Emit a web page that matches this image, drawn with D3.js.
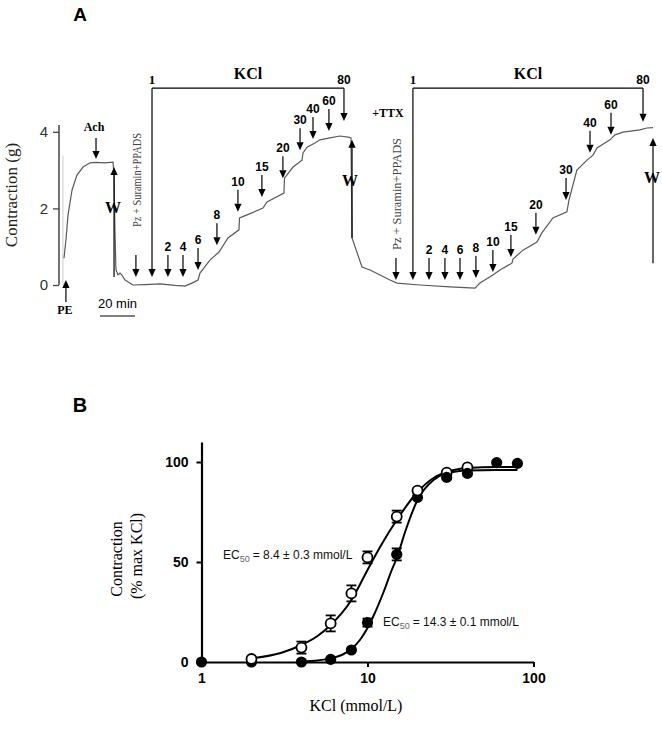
<!DOCTYPE html>
<html><head><meta charset="utf-8">
<script src="https://cdn.jsdelivr.net/npm/d3@7"></script>
<style>body{margin:0;background:#fff}</style>
</head><body><svg id="c" width="662" height="732"></svg>
<script>
// ---------- Panel A data (time in min from PE, contraction in g) ----------
const traceA = [[0,0.70],[1.1,1.17],[2.3,1.83],[4.6,2.48],[7.4,2.87],[10.9,3.08],[14.9,3.19],[18.3,3.2],[23.4,3.19],[28,3.21],
 [28.6,2.87],[29.1,1.44],[29.7,0.39],[30.9,0.26],[32,0.31],[33.1,0.26],[34.9,0.13],[39.4,0],[46.3,0.01],[54.9,0.03],
 [63.4,-0.01],[69.1,-0.03],[73.1,0.05],[76.6,0.13],[77.7,0.31],[83.4,0.65],[88.6,0.86],[93.7,1.23],[100,1.44],[100.3,1.75],
 [104.6,1.83],[113.7,2.01],[116,2.17],[125.7,2.40],[126,2.79],[130.9,3.08],[136,3.26],[136.6,3.45],[138.9,3.60],[143.4,3.71],
 [146.3,3.79],[152,3.84],[157.7,3.89],[162.3,3.86],[164,3.84],[164.6,1.23],[170.3,0.47],[174.9,0.39],[186.3,0.13],[190.3,0.05],
 [203.4,0],[220.6,-0.05],[234.9,-0.08],[237.7,0.05],[245.1,0.26],[249.1,0.39],[256,0.57],[256.6,0.68],[262.3,0.91],[270.3,1.12],
 [273.1,1.36],[279.4,1.75],[287.4,1.91],[288.6,2.22],[293.1,3.0],[298.9,3.26],[302.3,3.39],[304.6,3.58],[312,3.79],[314.9,3.92],
 [319.4,3.99],[329.1,4.05],[333.1,4.10],[336.6,4.11]];
const yTicksA = [0, 2, 4];
const doseLabels = ["2","4","6","8","10","15","20","30","40","60"];
const doseTime1 = [59.4,68,76.6,87.4,99.4,113.1,125.1,134.9,142.3,151.4];
const doseTip1  = [0.21,0.21,0.39,1.04,1.91,2.30,2.79,3.52,3.81,4.02];
const doseTime2 = [208.6,217.7,226.3,235.4,245.1,255.4,269.7,286.9,300.6,312.6];
const doseTip2  = [0.13,0.13,0.13,0.18,0.34,0.73,1.31,2.22,3.45,3.92];
const bracketStart = [50.3, 199.4], bracketStartTip = [0.21, 0.13];
const bracketEnd = [160, 330.9], bracketEndTip = [4.28, 4.26];
const bracketLevel = 5.14;
const washTime = [28.6, 164.6, 336.6], washFrom = [0.21, 1.23, 0.57], washTip = [3.08, 3.79, 3.84];
const peTime = 1.1, peTip = 0.13, achTime = 18.3, achTip = 3.29;
const pzTime = [41.1, 189.7], pzTip = [0.21, 0.13];

// ---------- Panel B data ----------
const conc = [1,2,4,6,8,10,15,20,30,40,60,80];
const ctrlMean = [null,1.5,7.2,19.3,34.3,52.3,72.7,85.7,94.7,97.3,null,null];
const ctrlSem  = [0,0,3,4,4,3,3,1,0,0,0,0];
const ttxMean  = [0,0,0,1.3,6,19.7,53.8,82.3,92.3,94.3,99.7,99.3];
const ttxSem   = [0,0,0,0,0,2,3,0,0,0,0,0];
const ctrlFitC = [2,3,4,5,6,8,10,12,15,20,25,30,40,60,80];
const ctrlFitV = [1.8,4.5,8.5,13,18.5,31,46,58,71,85,92,95,97,97.5,97.5];
const ttxFitC = [4,5,6,7,8,9,10,11,12.5,14,15,17,20,25,30,40,60,80];
const ttxFitV = [0.3,0.8,1.8,3.5,6.5,11,17,24,35,46,52,66,81,91,94.3,95.7,96,96];
const xTicksB = [1,10,100], yTicksB = [0,50,100];

const svg = d3.select("#c");
const serif = "'Liberation Serif','Times New Roman',serif";
const sans = "'Liberation Sans',Arial,sans-serif";

// ================= Panel A =================
const xA = d3.scaleLinear().domain([0,336.6]).range([64,653]);
const yA = d3.scaleLinear().domain([0,4]).range([285,131.8]);
const A = svg.append("g");

A.append("text").attr("x",80).attr("y",21).attr("text-anchor","middle")
 .attr("font-family",sans).attr("font-weight","bold").attr("font-size",19).text("A");

const axA = A.append("g").attr("transform",`translate(59,0)`)
 .call(d3.axisLeft(yA).tickValues(yTicksA).tickFormat(d3.format("d")).tickSize(6).tickSizeOuter(0).tickPadding(5));
axA.select(".domain").remove();
axA.selectAll("line").attr("stroke","#444").attr("stroke-width",1.3);
axA.selectAll("text").attr("font-family",sans).attr("font-size",15).attr("fill","#333");
A.append("line").attr("x1",59).attr("x2",59).attr("y1",yA(0)).attr("y2",yA(4.18)).attr("stroke","#444").attr("stroke-width",1.5);
A.append("text").attr("transform",`translate(17,${yA(2.35)}) rotate(-90)`).attr("text-anchor","middle")
 .attr("font-family",serif).attr("font-size",17).attr("fill","#222").text("Contraction (g)");

A.append("line").attr("x1",xA(-0.6)).attr("x2",xA(-0.6)).attr("y1",yA(0)).attr("y2",yA(3.38)).attr("stroke","#ccc").attr("stroke-width",1);

A.append("path").datum(traceA).attr("fill","none").attr("stroke","#5a5a5a").attr("stroke-width",1.2)
 .attr("d",d3.line().x(d=>xA(d[0])).y(d=>yA(d[1])));

function arrow(g,x,yFrom,yTo){
  const dir = yTo>yFrom?1:-1, hl=8, hw=3.6;
  g.append("line").attr("x1",x).attr("x2",x).attr("y1",yFrom).attr("y2",yTo-dir*hl).attr("stroke","#000").attr("stroke-width",1.2);
  g.append("path").attr("d",`M${x},${yTo}L${x-hw},${yTo-dir*hl}L${x+hw},${yTo-dir*hl}Z`).attr("fill","#000");
}
function label(g,x,y,t,opt){
  return g.append("text").attr("x",x).attr("y",y).attr("text-anchor","middle")
   .attr("font-family",opt&&opt.serif?serif:sans).attr("font-weight","bold").attr("font-size",(opt&&opt.size)||12).text(t);
}
const L = 22;
[[doseTime1,doseTip1],[doseTime2,doseTip2]].forEach(([ts,tips])=>{
  ts.forEach((t,i)=>{
    const x=xA(t), yt=yA(tips[i]);
    arrow(A,x,yt-L,yt);
    label(A,x,yt-L-4,doseLabels[i]);
  });
});
for(let k=0;k<2;k++){
  const x1=xA(bracketStart[k]), x2=xA(bracketEnd[k]), yl=yA(bracketLevel);
  A.append("line").attr("x1",x1).attr("x2",x2).attr("y1",yl).attr("y2",yl).attr("stroke","#000").attr("stroke-width",1.2);
  arrow(A,x1,yl,yA(bracketStartTip[k]));
  arrow(A,x2,yl,yA(bracketEndTip[k]));
  label(A,x1,yl-4,"1",{serif:true,size:13});
  label(A,x2,yl-4,"80");
  label(A,(x1+x2)/2,yl-9,"KCl",{serif:true,size:16});
}
arrow(A,xA(peTime),yA(peTip)+22,yA(peTip));
label(A,xA(peTime)-1,314,"PE",{serif:true,size:12});
arrow(A,xA(achTime),yA(achTip)-21,yA(achTip));
label(A,xA(achTime)-2,131,"Ach",{serif:true,size:12});
washTime.forEach((t,i)=>{ arrow(A,xA(t),yA(washFrom[i]),yA(washTip[i])); });
label(A,xA(washTime[0])-1,213,"W",{serif:true,size:16});
label(A,xA(washTime[1])-2,186,"W",{serif:true,size:16});
label(A,xA(washTime[2])-1,183,"W",{serif:true,size:16});
const pzLen=[94,112], pzBottom=[227,250];
pzTime.forEach((t,i)=>{
  const x=xA(t), yt=yA(pzTip[i]);
  arrow(A,x,yt-22,yt);
  A.append("text").attr("transform",`translate(${x+5},${pzBottom[i]}) rotate(-90)`)
   .attr("font-family",serif).attr("font-size",13).attr("fill","#444")
   .attr("textLength",pzLen[i]).attr("lengthAdjust","spacingAndGlyphs").text("Pz + Suramin+PPADS");
});
label(A,388,117,"+TTX",{serif:true,size:12});
A.append("line").attr("x1",xA(20.6)).attr("x2",xA(40.6)).attr("y1",316).attr("y2",316).attr("stroke","#000").attr("stroke-width",1);
A.append("text").attr("x",(xA(20.6)+xA(40.6))/2).attr("y",308).attr("text-anchor","middle")
 .attr("font-family",sans).attr("font-size",13).text("20 min");

// ================= Panel B =================
const xB = d3.scaleLog().domain([1,100]).range([201.5,533.5]);
const yB = d3.scaleLinear().domain([0,110]).range([662,442]);
const B = svg.append("g");
B.append("text").attr("x",80).attr("y",412).attr("text-anchor","middle")
 .attr("font-family",sans).attr("font-weight","bold").attr("font-size",20).text("B");

const axBy = B.append("g").attr("transform","translate(201.5,0)")
 .call(d3.axisLeft(yB).tickValues(yTicksB).tickSize(5).tickSizeOuter(0).tickPadding(8));
const axBx = B.append("g").attr("transform","translate(0,662)")
 .call(d3.axisBottom(xB).tickValues(xTicksB).tickFormat(d3.format("d")).tickSize(5).tickSizeOuter(0).tickPadding(6));
[axBy,axBx].forEach(a=>{
  a.select(".domain").attr("stroke","#000").attr("stroke-width",2.2);
  a.selectAll("line").attr("stroke","#000").attr("stroke-width",2);
  a.selectAll("text").attr("font-family",sans).attr("font-weight","bold").attr("font-size",14).attr("fill","#000");
});
B.append("text").attr("transform","translate(122,559) rotate(-90)").attr("text-anchor","middle")
 .attr("font-family",serif).attr("font-size",16).text("Contraction");
B.append("text").attr("transform","translate(142,556) rotate(-90)").attr("text-anchor","middle")
 .attr("font-family",serif).attr("font-size",16).text("(% max KCl)");
B.append("text").attr("x",356).attr("y",711).attr("text-anchor","middle")
 .attr("font-family",serif).attr("font-size",16).text("KCl (mmol/L)");

const line = d3.line().x(d=>xB(d[0])).y(d=>yB(d[1])).curve(d3.curveMonotoneX);
B.append("path").datum(ctrlFitC.map((c,i)=>[c,ctrlFitV[i]])).attr("d",line).attr("fill","none").attr("stroke","#000").attr("stroke-width",2);
B.append("path").datum(ttxFitC.map((c,i)=>[c,ttxFitV[i]])).attr("d",line).attr("fill","none").attr("stroke","#000").attr("stroke-width",2);

function errbars(means,sems){
  conc.forEach((c,i)=>{
    if(means[i]==null||!sems[i]) return;
    const x=xB(c), y1=yB(means[i]-sems[i]), y2=yB(means[i]+sems[i]);
    B.append("line").attr("x1",x).attr("x2",x).attr("y1",y1).attr("y2",y2).attr("stroke","#000").attr("stroke-width",1.8);
    [y1,y2].forEach(y=>B.append("line").attr("x1",x-5).attr("x2",x+5).attr("y1",y).attr("y2",y).attr("stroke","#000").attr("stroke-width",1.8));
  });
}
errbars(ttxMean,ttxSem);
errbars(ctrlMean,ctrlSem);
function dots(means,filled,filter){
  conc.forEach((c,i)=>{
    if(means[i]==null||!filter(c)) return;
    B.append("circle").attr("cx",xB(c)).attr("cy",yB(means[i])).attr("r",filled?5.6:5)
     .attr("fill",filled?"#000":"#fff").attr("stroke","#000").attr("stroke-width",filled?0:1.8);
  });
}
dots(ttxMean,true,c=>c<=20);
dots(ctrlMean,false,()=>true);
dots(ttxMean,true,c=>c>=30);

function ec(x,y,rest){
  const t=B.append("text").attr("x",x).attr("y",y).attr("font-family",sans).attr("font-size",12).attr("fill","#111")
   .attr("xml:space","preserve").style("white-space","pre");
  t.append("tspan").text("EC");
  t.append("tspan").attr("font-size",9).attr("dy",3).attr("fill","#666").text("50");
  t.append("tspan").attr("dy",-3).attr("dx",3).text(rest);
}
ec(223,559,"= 8.4 ± 0.3 mmol/L");
ec(383,626,"= 14.3 ± 0.1 mmol/L");
</script></body></html>
